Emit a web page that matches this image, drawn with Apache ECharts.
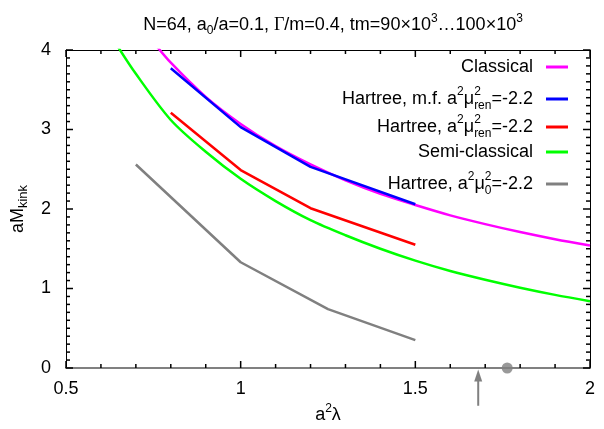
<!DOCTYPE html>
<html>
<head>
<meta charset="utf-8">
<script src="https://cdn.jsdelivr.net/npm/echarts@6/dist/echarts.min.js"></script>
<style>
  html, body { margin: 0; padding: 0; background: #fff; }
  #chart { width: 604px; height: 429px; }
</style>
</head>
<body>
<div id="chart"></div>
<script>
// Kink mass versus coupling a^2*lambda
const classicalX = [0.75, 0.8, 0.9, 1.0, 1.1, 1.2, 1.3, 1.4, 1.5, 1.6, 1.7, 1.8, 1.9, 2.0];
const classicalY = [4.10, 3.84, 3.41, 3.07, 2.79, 2.56, 2.36, 2.19, 2.05, 1.92, 1.81, 1.71, 1.62, 1.54];

const semiX = [0.64, 0.7, 0.8, 0.9, 1.0, 1.1, 1.2, 1.3, 1.4, 1.5, 1.6, 1.7, 1.8, 1.9, 2.0];
const semiY = [4.10, 3.70, 3.12, 2.72, 2.38, 2.10, 1.86, 1.67, 1.50, 1.35, 1.22, 1.11, 1.01, 0.92, 0.84];

const hartreeMfX = [0.8, 1.0, 1.2, 1.5];
const hartreeMfY = [3.77, 3.03, 2.53, 2.06];

const hartreeX = [0.8, 1.0, 1.2, 1.5];
const hartreeY = [3.21, 2.49, 2.01, 1.55];

const hartreeBareX = [0.7, 1.0, 1.25, 1.5];
const hartreeBareY = [2.56, 1.33, 0.74, 0.35];

// Marker on the axis and the arrow below it
const dotX = 1.763;
const arrowX = 1.68;
const arrowTailY = -0.475;
const arrowTipY = -0.02;

const xTicks = [0.5, 1, 1.5, 2];
const yTicks = [0, 1, 2, 3, 4];
const xMinorStep = 0.1;
const yMinorStep = 0.1;

const FONT = 'Liberation Sans, Arial, Helvetica, sans-serif';

const zip = (xs, ys) => xs.map((x, i) => [x, ys[i]]);

const X0 = xTicks[0], X1 = xTicks[xTicks.length - 1];
const Y0 = yTicks[0], Y1 = yTicks[yTicks.length - 1];

// tick marks on the frame: [x, y, side (0 = horizontal borders, 1 = vertical borders), isMajor]
const tickMarks = [];
(function () {
  const isMajor = (list, v) => list.some(t => Math.abs(t - v) < 1e-6) ? 1 : 0;
  const nx = Math.round((X1 - X0) / xMinorStep);
  for (let i = 0; i <= nx; i++) {
    const v = +(X0 + i * xMinorStep).toFixed(4);
    tickMarks.push([v, Y0, 0, isMajor(xTicks, v)]);
  }
  const ny = Math.round((Y1 - Y0) / yMinorStep);
  for (let i = 0; i <= ny; i++) {
    const v = +(Y0 + i * yMinorStep).toFixed(4);
    tickMarks.push([X0, v, 1, isMajor(yTicks, v)]);
  }
})();

const legendNames = {
  'Classical': '{n|Classical}',
  'Hartree m.f.': '{n|Hartree, m.f. a}{sp|2}{n|μ}{sz|2}{sb|ren}{n|=-2.2}',
  'Hartree': '{n|Hartree, a}{sp|2}{n|μ}{sz|2}{sb|ren}{n|=-2.2}',
  'Semi-classical': '{n|Semi-classical}',
  'Hartree bare': '{n|Hartree, a}{sp|2}{n|μ}{sz|2}{sb|0}{n|=-2.2}'
};

// rich-text pieces; the zero-width superscript stacks over the following subscript
const rich = {
  n: { fontSize: 18, fontFamily: FONT, color: '#000', lineHeight: 26, align: 'left' },
  sp: { fontSize: 12, fontFamily: FONT, color: '#000', lineHeight: 16, verticalAlign: 'top', align: 'left' },
  sz: { fontSize: 12, fontFamily: FONT, color: '#000', lineHeight: 16, verticalAlign: 'top', align: 'left', width: 0 },
  sb: { fontSize: 12, fontFamily: FONT, color: '#000', lineHeight: 14, verticalAlign: 'bottom', align: 'left' }
};

const legendOrder = ['Classical', 'Hartree m.f.', 'Hartree', 'Semi-classical', 'Hartree bare'];
const legendColors = ['#ff00ff', '#0000ff', '#ff0000', '#00ff00', '#808080'];
const legendCenters = [71, 99, 127, 156, 184];

const legends = legendOrder.map((name, i) => ({
  data: [name],
  right: 36,
  top: legendCenters[i] - 13,
  align: 'right',
  orient: 'vertical',
  icon: 'rect',
  itemWidth: 22,
  itemHeight: 3,
  selectedMode: false,
  padding: 0,
  formatter: (nm) => legendNames[nm],
  textStyle: { rich: rich, padding: [0, 8, 0, 0] }
}));

const lineSeries = (name, data, color, z, smooth) => ({
  name: name,
  type: 'line',
  data: data,
  color: color,
  symbol: 'none',
  smooth: smooth ? 0.3 : false,
  lineStyle: { color: color, width: 2.5 },
  z: z
});

const chart = echarts.init(document.getElementById('chart'), null, { renderer: 'canvas' });

const xBase = { type: 'value', min: X0, max: X1, interval: 0.5 };
const yBase = { type: 'value', min: Y0, max: Y1, interval: 1 };

chart.setOption({
  animation: false,
  backgroundColor: '#fff',
  title: {
    text: '{t|N=64, a}{s|0}{t|/a=0.1, }{g|Γ}{t|/m=0.4, tm=90×10}{p|3}{t|…100×10}{p|3}',
    left: 328,
    top: 8,
    textAlign: 'center',
    textStyle: {
      fontWeight: 'normal',
      rich: {
        t: { fontSize: 18, fontWeight: 'normal', fontFamily: FONT, color: '#000', lineHeight: 24 },
        g: { fontSize: 18, fontWeight: 'normal', fontFamily: 'Liberation Serif, DejaVu Serif, serif', color: '#000', lineHeight: 24 },
        s: { fontSize: 12, fontWeight: 'normal', fontFamily: FONT, color: '#000', lineHeight: 13, verticalAlign: 'bottom' },
        p: { fontSize: 12, fontWeight: 'normal', fontFamily: FONT, color: '#000', lineHeight: 14, verticalAlign: 'top' }
      }
    }
  },
  legend: legends,
  grid: { left: 66, right: 14, top: 50, bottom: 59, containLabel: false },
  xAxis: [
    Object.assign({}, xBase, {
      position: 'bottom',
      axisLine: { show: true, onZero: false, lineStyle: { color: '#808080', width: 2 } },
      axisTick: { show: false },
      splitLine: { show: false },
      axisLabel: {
        margin: 12, fontSize: 18, fontFamily: FONT, color: '#000',
        formatter: (v) => String(v), showMinLabel: true, showMaxLabel: true
      },
      name: '{n|a}{p|2}{n|λ}',
      nameLocation: 'middle',
      nameGap: 35,
      nameTextStyle: {
        rich: {
          n: { fontSize: 18, fontFamily: FONT, color: '#000', lineHeight: 24 },
          p: { fontSize: 12, fontFamily: FONT, color: '#000', lineHeight: 16, verticalAlign: 'top' }
        }
      }
    }),
    Object.assign({}, xBase, {
      position: 'top',
      axisLine: { show: true, onZero: false, lineStyle: { color: '#000', width: 1 } },
      axisTick: { show: false },
      splitLine: { show: false },
      axisLabel: { show: false }
    })
  ],
  yAxis: [
    Object.assign({}, yBase, {
      position: 'left',
      axisLine: { show: true, onZero: false, lineStyle: { color: '#000', width: 1 } },
      axisTick: { show: false },
      splitLine: { show: false },
      axisLabel: { margin: 15, fontSize: 18, fontFamily: FONT, color: '#000' },
      name: '{n|aM}{b|kink}',
      nameLocation: 'middle',
      nameGap: 27,
      nameTextStyle: {
        rich: {
          n: { fontSize: 18, fontFamily: FONT, color: '#000', lineHeight: 24 },
          b: { fontSize: 13, fontFamily: FONT, color: '#000', lineHeight: 16, verticalAlign: 'bottom' }
        }
      }
    }),
    Object.assign({}, yBase, {
      position: 'right',
      axisLine: { show: true, onZero: false, lineStyle: { color: '#000', width: 1 } },
      axisTick: { show: false },
      splitLine: { show: false },
      axisLabel: { show: false }
    })
  ],
  series: [
    // inward tick marks on all four borders
    {
      type: 'custom',
      clip: false,
      silent: true,
      z: 4,
      data: tickMarks,
      renderItem: (params, api) => {
        const side = api.value(2);
        const len = api.value(3) ? 7 : 4;
        const fill = { fill: '#000' };
        const w = 1.5;
        if (side === 0) {
          const b = api.coord([api.value(0), Y0]);
          const t = api.coord([api.value(0), Y1]);
          const x = b[0] - w / 2;
          return { type: 'group', children: [
            { type: 'rect', shape: { x: x, y: b[1] - len, width: w, height: len }, style: fill },
            { type: 'rect', shape: { x: x, y: t[1], width: w, height: len }, style: fill }
          ] };
        }
        const l = api.coord([X0, api.value(1)]);
        const r = api.coord([X1, api.value(1)]);
        const y = l[1] - w / 2;
        return { type: 'group', children: [
          { type: 'rect', shape: { x: l[0], y: y, width: len, height: w }, style: fill },
          { type: 'rect', shape: { x: r[0] - len, y: y, width: len, height: w }, style: fill }
        ] };
      }
    },
    lineSeries('Classical', zip(classicalX, classicalY), legendColors[0], 2, true),
    lineSeries('Hartree m.f.', zip(hartreeMfX, hartreeMfY), legendColors[1], 3, false),
    lineSeries('Hartree', zip(hartreeX, hartreeY), legendColors[2], 3, false),
    lineSeries('Semi-classical', zip(semiX, semiY), legendColors[3], 2, true),
    lineSeries('Hartree bare', zip(hartreeBareX, hartreeBareY), legendColors[4], 3, false),
    {
      type: 'scatter',
      data: [[dotX, 0]],
      symbol: 'circle',
      symbolSize: 11,
      itemStyle: { color: '#808080' },
      clip: false,
      z: 5
    },
    {
      type: 'custom',
      clip: false,
      data: [[arrowX, arrowTailY, arrowTipY]],
      renderItem: (params, api) => {
        const tail = api.coord([api.value(0), api.value(1)]);
        const tip = api.coord([api.value(0), api.value(2)]);
        return {
          type: 'group',
          children: [
            {
              type: 'line',
              shape: { x1: tail[0], y1: tail[1], x2: tip[0], y2: tip[1] + 9 },
              style: { stroke: '#808080', lineWidth: 2 }
            },
            {
              type: 'polygon',
              shape: { points: [[tip[0], tip[1]], [tip[0] - 4, tip[1] + 12], [tip[0] + 4, tip[1] + 12]] },
              style: { fill: '#808080' }
            }
          ]
        };
      },
      z: 5
    }
  ]
});
</script>
</body>
</html>
